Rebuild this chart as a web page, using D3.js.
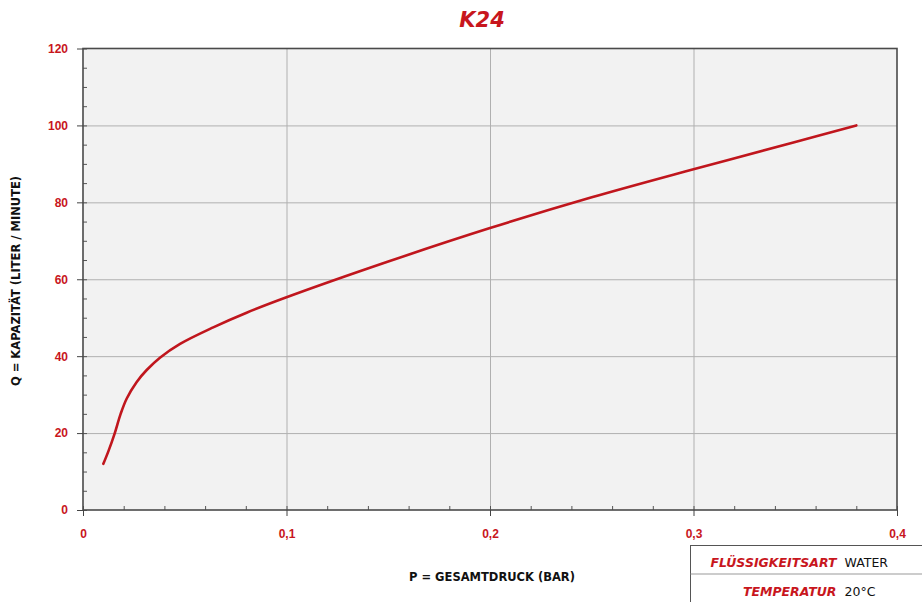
<!DOCTYPE html>
<html>
<head>
<meta charset="utf-8">
<script src="https://cdn.jsdelivr.net/npm/d3@7"></script>
<style>
  body { margin: 0; background: #fff; }
  svg { display: block; font-family: "DejaVu Sans", sans-serif; }
  .tick text { font-weight: 700; font-size: 12px; fill: #c8161d; }
  .axis path { display: none; }
  .major line { stroke: #444; }
  .minor line { stroke: #555; }
  .grid line { stroke: #b0b0b0; }
  .grid path { display: none; }
  .grid text { display: none; }
  .lbl { font-weight: 700; font-size: 11.5px; fill: #111; }
  .info-key { font-weight: 700; font-style: italic; font-size: 12.5px; fill: #c8161d; }
  .info-val { font-size: 12.5px; fill: #111; }
</style>
</head>
<body>
<div id="chart"></div>
<script>
// K24 Kennlinie: Druck (bar) gegen Kapazität (l/min)
var pressure = [0.010, 0.0125, 0.0155, 0.0185, 0.0215, 0.0264, 0.0313, 0.0378, 0.0477, 0.064, 0.0804, 0.1, 0.15, 0.2, 0.25, 0.3, 0.35, 0.38];
var capacity = [12.0, 15.3, 19.8, 25.0, 29.0, 33.3, 36.4, 39.6, 43.2, 47.5, 51.3, 55.3, 64.6, 73.3, 81.3, 88.6, 95.7, 100];
var xTicks = [0, 0.1, 0.2, 0.3, 0.4];
var yTicks = [0, 20, 40, 60, 80, 100, 120];
var infoKeys = ["FLÜSSIGKEITSART", "TEMPERATUR"];
var infoVals = ["WATER", "20°C"];

var W = 922, H = 602;
var margin = {top: 48.5, right: 25, bottom: 92, left: 83};
var width = W - margin.left - margin.right,
    height = H - margin.top - margin.bottom;

var de = d3.formatLocale({decimal: ",", thousands: ".", grouping: [3], currency: ["", "€"]});
var fmt = de.format("~g");

var x = d3.scaleLinear().domain([0, 0.4]).range([0, width]);
var y = d3.scaleLinear().domain([0, 120]).range([height, 0]);

var svg = d3.select("#chart").append("svg")
    .attr("width", W)
    .attr("height", H);

svg.append("text")
    .attr("x", 482).attr("y", 27)
    .attr("text-anchor", "middle")
    .style("font-weight", 700).style("font-style", "italic")
    .style("font-size", "21px").style("fill", "#c8161d")
    .text("K24");

var g = svg.append("g")
    .attr("transform", "translate(" + margin.left + "," + margin.top + ")");

g.append("rect")
    .attr("width", width).attr("height", height)
    .style("fill", "#f2f2f2");

// gridlines
g.append("g").attr("class", "grid")
    .attr("transform", "translate(0," + height + ")")
    .call(d3.axisBottom(x).tickValues(xTicks.slice(1, -1)).tickSize(-height));
g.append("g").attr("class", "grid")
    .call(d3.axisLeft(y).tickValues(yTicks.slice(1, -1)).tickSize(-width));

// minor ticks (inward)
g.append("g").attr("class", "axis minor")
    .attr("transform", "translate(0," + height + ")")
    .call(d3.axisBottom(x).ticks(20).tickSize(-4).tickFormat(""));
g.append("g").attr("class", "axis minor")
    .call(d3.axisLeft(y).ticks(24).tickSize(-4).tickFormat(""));

// frame
g.append("rect")
    .attr("width", width).attr("height", height)
    .style("fill", "none").style("stroke", "#4a4a4a").style("stroke-width", 1.6);

// major ticks (outward) with labels
g.append("g").attr("class", "axis major")
    .attr("transform", "translate(0," + height + ")")
    .call(d3.axisBottom(x).tickValues(xTicks).tickSize(6).tickPadding(13).tickFormat(fmt));
g.append("g").attr("class", "axis major")
    .call(d3.axisLeft(y).tickValues(yTicks).tickSize(6).tickPadding(9).tickFormat(fmt));

// curve
var line = d3.line()
    .x(function(d, i) { return x(pressure[i]); })
    .y(function(d) { return y(d); })
    .curve(d3.curveCatmullRom.alpha(0.5));

g.append("path")
    .datum(capacity)
    .attr("d", line)
    .style("fill", "none")
    .style("stroke", "#c0161d")
    .style("stroke-width", 2.6)
    .style("stroke-linecap", "round");

// axis titles
svg.append("text").attr("class", "lbl")
    .attr("x", 492).attr("y", 581)
    .attr("text-anchor", "middle")
    .text("P = GESAMTDRUCK (BAR)");
svg.append("text").attr("class", "lbl")
    .attr("transform", "translate(20,281) rotate(-90)")
    .attr("text-anchor", "middle")
    .text("Q = KAPAZITÄT (LITER / MINUTE)");

// info box
var box = svg.append("g").attr("transform", "translate(690.5,545.5)");
box.append("rect")
    .attr("width", 240).attr("height", 60)
    .style("fill", "#fff").style("stroke", "#555").style("stroke-width", 1);
box.append("line")
    .attr("x1", 0).attr("x2", 240).attr("y1", 28.5).attr("y2", 28.5)
    .style("stroke", "#999");
box.selectAll(".info-key").data(infoKeys).enter().append("text")
    .attr("class", "info-key")
    .attr("x", 146).attr("y", function(d, i) { return 21 + i * 29; })
    .attr("text-anchor", "end")
    .text(function(d) { return d; });
box.selectAll(".info-val").data(infoVals).enter().append("text")
    .attr("class", "info-val")
    .attr("x", 154).attr("y", function(d, i) { return 21 + i * 29; })
    .text(function(d) { return d; });
</script>
</body>
</html>
